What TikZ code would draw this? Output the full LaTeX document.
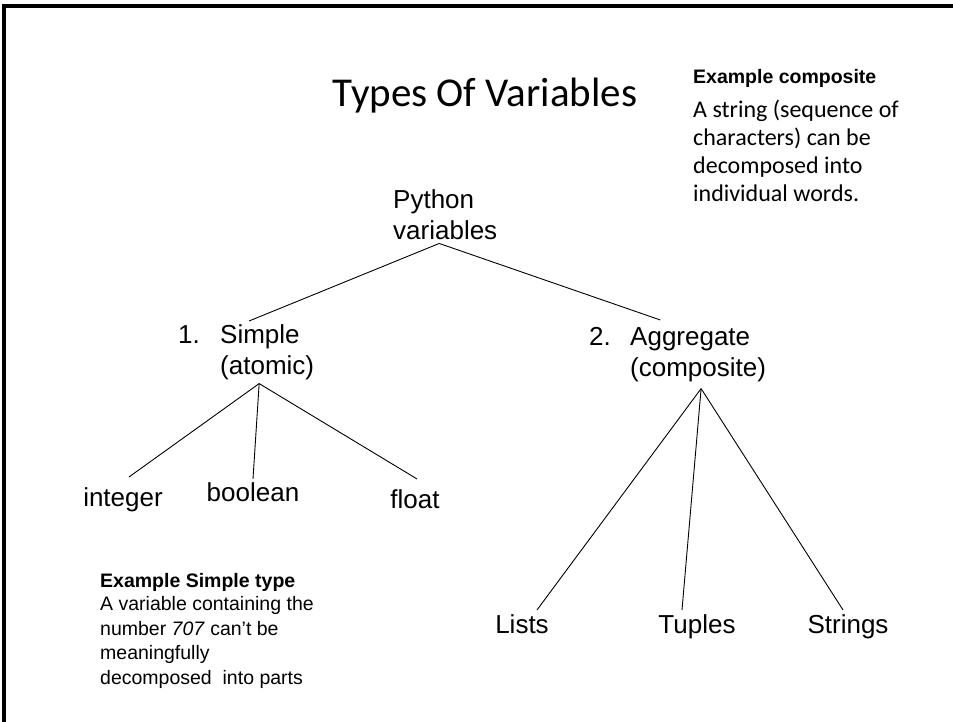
\documentclass[tikz,border=0pt]{standalone}
\usepackage{fontspec}
\setmainfont{Liberation Sans}
\newfontfamily\calibrifont{Carlito}
\usetikzlibrary{positioning}

\tikzset{
  tree/.style={font=\fontsize{26}{31}\selectfont, inner sep=1pt, align=left},
  leaf/.style={font=\fontsize{26}{31}\selectfont, inner sep=0pt, anchor=base},
  notehead/.style={font=\fontsize{19.5}{24}\selectfont\bfseries, inner sep=0pt, anchor=base west},
  branch/.style={line width=0.9pt}
}

\begin{document}
\begin{tikzpicture}[x=1pt,y=-1pt]
\useasboundingbox (0,0) rectangle (953,722);
% frame
\draw[line width=3.5pt] (4,722) -- (4,6) -- (953,6);

\node[font=\calibrifont\fontsize{41}{48}\selectfont, inner sep=0pt, anchor=base] (title) at (485,107) {Types Of Variables};

% notes
\node[notehead] (comphead) at (693,84) {Example composite};
\node[font=\calibrifont\fontsize{24}{27.7}\selectfont, inner sep=0pt, align=left, below right=12pt and 0pt of comphead.south west] (comptext)
  {A string (sequence of\\characters) can be\\decomposed into\\individual words.};
\node[notehead] (simphead) at (100,587) {Example Simple type};
\node[font=\fontsize{19.5}{24.5}\selectfont, inner sep=0pt, align=left, below right=5pt and 0pt of simphead.south west] (simptext)
  {A variable containing the\\number \textit{707} can’t be\\meaningfully\\decomposed\ \ into parts};

% tree (base = last line)
\node[tree, anchor=base west] (pv) at (392,240) {Python\\variables};
\node[tree, anchor=base west] (n1) at (177,343) {1.};
\node[tree, anchor=base west] (simple) at (219,374) {Simple\\(atomic)};
\node[tree, anchor=base west] (n2) at (588,345) {2.};
\node[tree, anchor=base west] (agg) at (629,376) {Aggregate\\(composite)};

\node[leaf] (int) at (123,506) {integer};
\node[leaf] (bool) at (253,501) {boolean};
\node[leaf] (flt) at (415,508) {float};
\node[leaf] (lists) at (522,633) {Lists};
\node[leaf] (tuples) at (697,633) {Tuples};
\node[leaf] (strings) at (848,633) {Strings};

\draw[branch] ([xshift=-6pt,yshift=-2pt]pv.south) -- ([xshift=-18pt,yshift=2pt]simple.north);
\draw[branch] ([xshift=-6pt,yshift=-2pt]pv.south) -- ([xshift=-38pt,yshift=6pt]agg.north);
\draw[branch] ([xshift=-8pt,yshift=-3pt]simple.south) -- ([xshift=6pt,yshift=10pt]int.north);
\draw[branch] ([xshift=-8pt,yshift=-3pt]simple.south) -- ([yshift=3pt]bool.north);
\draw[branch] ([xshift=-8pt,yshift=-3pt]simple.south) -- ([xshift=2pt,yshift=10pt]flt.north);
\draw[branch] ([xshift=3pt,yshift=-6pt]agg.south) -- ([xshift=15pt,yshift=4pt]lists.north);
\draw[branch] ([xshift=3pt,yshift=-6pt]agg.south) -- ([xshift=-15pt,yshift=4pt]tuples.north);
\draw[branch] ([xshift=3pt,yshift=-6pt]agg.south) -- ([xshift=-5pt,yshift=4pt]strings.north);
\end{tikzpicture}
\end{document}
